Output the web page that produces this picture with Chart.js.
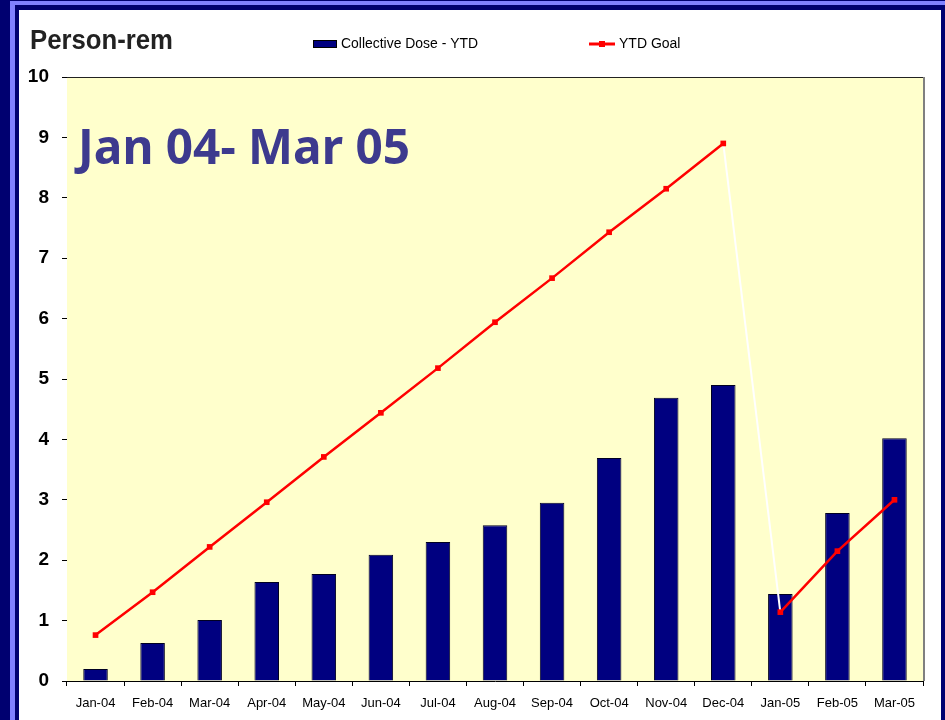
<!DOCTYPE html>
<html>
<head>
<meta charset="utf-8">
<script src="https://cdn.jsdelivr.net/npm/chart.js@4/dist/chart.umd.min.js"></script>
<style>
  html, body { margin: 0; padding: 0; }
  body { width: 945px; height: 720px; background: #000070; position: relative; overflow: hidden; }
  #stripe { position: absolute; left: 10px; top: 1px; width: 940px; height: 730px;
            border-top: 4px solid #8080ff; border-left: 5px solid #8080ff; }
  #panel { position: absolute; left: 19px; top: 10px; width: 922px; height: 710px; background: #fff; }
</style>
</head>
<body>
<div id="stripe"></div>
<div id="panel"><canvas id="doseChart"></canvas></div>
<script>
// data
const months = ["Jan-04", "Feb-04", "Mar-04", "Apr-04", "May-04", "Jun-04", "Jul-04", "Aug-04",
                "Sep-04", "Oct-04", "Nov-04", "Dec-04", "Jan-05", "Feb-05", "Mar-05"];
const collectiveDose = [0.2, 0.63, 1.01, 1.64, 1.77, 2.09, 2.3, 2.58, 2.95, 3.69, 4.69, 4.9, 1.44, 2.78, 4.02];
const ytdGoal = [0.76, 1.47, 2.22, 2.96, 3.71, 4.44, 5.18, 5.94, 6.67, 7.43, 8.15, 8.9, 1.14, 2.15, 3.0];
const yTicks = [0, 1, 2, 3, 4, 5, 6, 7, 8, 9, 10];
const unitTitle = "Person-rem";
const periodText = "Jan 04- Mar 05";

// plot background, frame, titles and legend
const decorPlugin = {
  id: 'decorPlugin',
  beforeDatasetsDraw(chart) {
    const { ctx, chartArea: a } = chart;
    ctx.save();
    ctx.fillStyle = '#ffffcc';
    ctx.fillRect(a.left, a.top, a.right - a.left, a.bottom - a.top);
    // big period label
    ctx.fillStyle = '#3d3a8e';
    ctx.font = 'bold 48px "Noto Sans", "DejaVu Sans"';
    ctx.textBaseline = 'alphabetic';
    ctx.textAlign = 'left';
    ctx.fillText(periodText, a.left + 11, 154, 332);
    ctx.restore();
  },
  afterDraw(chart) {
    const { ctx, chartArea: a } = chart;
    ctx.save();
    // frame: top dark, right grey shadow
    ctx.strokeStyle = '#222';
    ctx.lineWidth = 1;
    ctx.beginPath();
    ctx.moveTo(a.left, a.top + 0.5);
    ctx.lineTo(a.right, a.top + 0.5);
    ctx.stroke();
    ctx.strokeStyle = '#808080';
    ctx.lineWidth = 2;
    ctx.beginPath();
    ctx.moveTo(a.right + 1, a.top);
    ctx.lineTo(a.right + 1, a.bottom);
    ctx.stroke();

    // unit title
    ctx.fillStyle = '#222';
    ctx.font = 'bold 27px "Liberation Sans", Arial';
    ctx.textBaseline = 'alphabetic';
    ctx.textAlign = 'left';
    ctx.fillText(unitTitle, 11, 39, 143);

    // legend
    const bars = chart.data.datasets.find(d => d.type === 'bar');
    const goal = chart.data.datasets.find(d => d.type === 'line');
    ctx.font = '14px "Liberation Sans", Arial';
    ctx.textBaseline = 'middle';
    ctx.fillStyle = bars.backgroundColor;
    ctx.fillRect(294, 30, 24, 8);
    ctx.strokeStyle = '#000';
    ctx.lineWidth = 1;
    ctx.strokeRect(294.5, 30.5, 23, 7);
    ctx.fillStyle = '#000';
    ctx.fillText(bars.label, 322, 34, 137);

    ctx.strokeStyle = goal.borderColor;
    ctx.lineWidth = 3;
    ctx.beginPath();
    ctx.moveTo(570, 34);
    ctx.lineTo(596, 34);
    ctx.stroke();
    ctx.fillStyle = goal.borderColor;
    ctx.fillRect(580, 31, 6, 6);
    ctx.fillStyle = '#000';
    ctx.fillText(goal.label, 600, 34);
    ctx.restore();
  }
};

const ctx = document.getElementById('doseChart').getContext('2d');

const doseChart = new Chart(ctx, {
  type: 'bar',
  data: {
    labels: months,
    datasets: [
      {
        type: 'line',
        label: 'YTD Goal',
        data: ytdGoal,
        borderColor: '#ff0000',
        backgroundColor: '#ff0000',
        borderWidth: 2.5,
        pointStyle: 'rect',
        pointRadius: 4,
        pointBorderWidth: 0,
        pointBackgroundColor: '#ff0000',
        tension: 0,
        order: 0,
        segment: {
          borderColor: c => c.p0DataIndex === 11 ? '#ffffff' : '#ff0000',
          borderWidth: c => c.p0DataIndex === 11 ? 2 : 2.5
        }
      },
      {
        type: 'bar',
        label: 'Collective Dose - YTD',
        data: collectiveDose,
        backgroundColor: '#000080',
        borderColor: '#000022',
        borderWidth: 1,
        borderSkipped: 'bottom',
        barPercentage: 0.43,
        categoryPercentage: 1,
        order: 1
      }
    ]
  },
  options: {
    responsive: true,
    maintainAspectRatio: false,
    animation: false,
    layout: { padding: { top: 67, right: 18, left: 0, bottom: 0 } },
    scales: {
      x: {
        afterFit(scale) { scale.height = 39; },
        grid: { display: true, drawOnChartArea: false, drawTicks: true, tickLength: 5, color: '#000', offset: true },
        border: { display: true, color: '#000', width: 1 },
        ticks: { color: '#000', padding: 10, maxRotation: 0, autoSkip: false,
                 font: { family: '"Liberation Sans", Arial', size: 13 } }
      },
      y: {
        min: 0,
        max: 10,
        afterFit(scale) { scale.width = 48; },
        afterBuildTicks(scale) { scale.ticks = yTicks.map(v => ({ value: v })); },
        grid: { display: true, drawOnChartArea: false, drawTicks: true, tickLength: 5, color: '#000' },
        border: { display: true, color: '#000', width: 1 },
        ticks: { color: '#000', padding: 13,
                 font: { family: '"Liberation Sans", Arial', size: 19, weight: 'bold' } }
      }
    },
    plugins: {
      legend: { display: false },
      title: { display: false },
      tooltip: { enabled: false }
    }
  },
  plugins: [decorPlugin]
});
</script>
</body>
</html>
